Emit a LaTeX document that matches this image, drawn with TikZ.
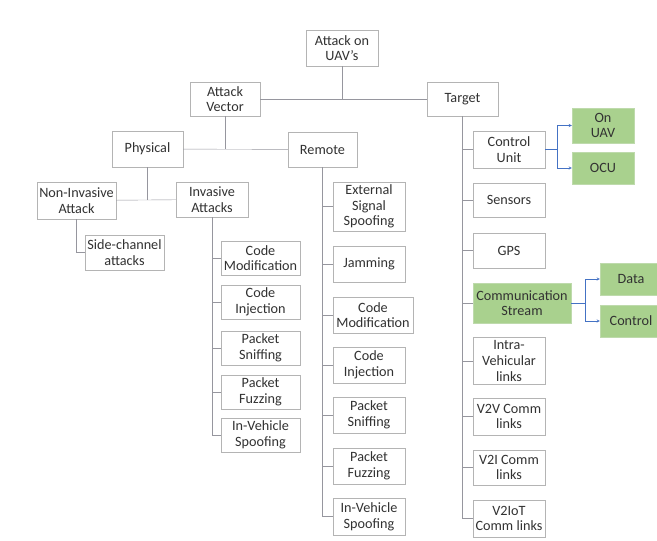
\documentclass[tikz,border=0pt]{standalone}
\usepackage{fontspec}
\setmainfont{Carlito}
\usetikzlibrary{arrows,positioning}
\definecolor{boxline}{RGB}{180,180,180}
\definecolor{linkline}{RGB}{150,150,158}
\definecolor{greenfill}{RGB}{169,209,142}
\definecolor{greenedge}{RGB}{190,218,172}
\definecolor{arrowblue}{RGB}{68,114,196}
\definecolor{textgray}{RGB}{50,50,50}
\tikzstyle{vector}=[rectangle,draw=boxline,thin,fill=white,inner sep=1pt,align=center]
\tikzstyle{leaf}=[vector,minimum width=72pt,minimum height=36pt]
\tikzstyle{added}=[fill=greenfill,draw=greenedge]
\tikzstyle{link}=[draw=linkline,thin]
\tikzstyle{feed}=[draw=arrowblue,thin,->]

\begin{document}
\begin{tikzpicture}[>=stealth,x=1pt,y=-1pt,font=\fontsize{14.2}{15.6}\selectfont,text=textgray]
    \useasboundingbox (0,0) rectangle (657,541);

    % upper levels
    \node[vector,minimum width=72pt,minimum height=36pt] (uav) at (342,48) {Attack on\\UAV's};
    \node[vector,minimum width=70pt,minimum height=34pt] (vector) at (225,99) {Attack\\Vector};
    \node[vector,minimum width=71pt,minimum height=34pt] (target) at (462.5,99) {Target};
    \node[vector,minimum width=71pt,minimum height=36pt] (physical) at (147.5,149) {Physical};
    \node[vector,minimum width=69pt,minimum height=35pt] (remote) at (322.5,149.5) {Remote};
    \node[vector,minimum width=79pt,minimum height=37pt] (noninv) at (76.5,200.5) {Non-Invasive\\Attack};
    \node[vector,minimum width=72pt,minimum height=35pt] (inv) at (212,199.5) {Invasive\\Attacks};
    \node[vector,minimum width=79pt,minimum height=35pt] (side) at (124.5,252.5) {Side-channel\\attacks};

    % invasive attacks
    \node[leaf,minimum width=79pt,minimum height=34pt] (icode) at (260.5,258) {Code\\Modification};
    \node[leaf,minimum width=79pt,minimum height=34pt] (iinj) at (260.5,302) {Code\\Injection};
    \node[leaf,minimum width=79pt,minimum height=34pt] (isniff) at (260.5,348) {Packet\\Sniffing};
    \node[leaf,minimum width=79pt,minimum height=34pt] (ifuzz) at (260.5,392) {Packet\\Fuzzing};
    \node[leaf,minimum width=79pt,minimum height=34pt] (ispoof) at (260.5,435) {In-Vehicle\\Spoofing};

    % remote attacks
    \node[leaf,minimum height=49pt] (rext) at (369,206.5) {External\\Signal\\Spoofing};
    \node[leaf] (rjam) at (369,264) {Jamming};
    \node[leaf,minimum width=80pt] (rcode) at (373,315) {Code\\Modification};
    \node[leaf] (rinj) at (369,365) {Code\\Injection};
    \node[leaf] (rsniff) at (369,415) {Packet\\Sniffing};
    \node[leaf] (rfuzz) at (369,466) {Packet\\Fuzzing};
    \node[leaf,minimum height=37pt] (rspoof) at (369,516.5) {In-Vehicle\\Spoofing};

    % targets
    \node[leaf,minimum height=37pt] (cu) at (509,149.5) {Control\\Unit};
    \node[leaf,minimum height=34pt] (sensors) at (509,200) {Sensors};
    \node[leaf,minimum height=35pt] (gps) at (509,250.5) {GPS};
    \node[leaf,added,minimum width=98pt,minimum height=40pt] (stream) at (522,303) {Communication\\Stream};
    \node[leaf,minimum height=47pt] (intra) at (509,361) {Intra-\\Vehicular\\links};
    \node[leaf,minimum height=37pt] (v2v) at (509,416.5) {V2V Comm\\links};
    \node[leaf,minimum height=35pt] (v2i) at (509,467.5) {V2I Comm\\links};
    \node[leaf,minimum height=37pt] (v2iot) at (509,518.5) {V2IoT\\Comm links};

    \node[vector,added,minimum width=62pt,minimum height=35pt] (onuav) at (603,125.5) {On\\UAV};
    \node[vector,added,minimum width=62pt,minimum height=32pt] (ocu) at (603,168) {OCU};
    \node[vector,added,minimum width=62pt,minimum height=32pt] (data) at (631,279) {Data};
    \node[vector,added,minimum width=62pt,minimum height=32pt] (control) at (631,321) {Control};

    \draw[link] (vector) -- (target);
    \draw[link] (uav) -- (uav |- vector);
    \draw[link] (physical) -- (remote);
    \draw[link] (vector) -- (vector |- physical);
    \draw[link] (noninv) -- (inv);
    \draw[link] (physical) -- (physical |- inv);

    \draw[link] (noninv.south) |- (side.west);

    \draw[link] (inv.south) |- (icode.west);
    \draw[link] (inv.south) |- (iinj.west);
    \draw[link] (inv.south) |- (isniff.west);
    \draw[link] (inv.south) |- (ifuzz.west);
    \draw[link] (inv.south) |- (ispoof.west);

    \draw[link] (remote.south) |- (rext.west);
    \draw[link] (remote.south) |- (rjam.west);
    \draw[link] (remote.south) |- (rcode.west);
    \draw[link] (remote.south) |- (rinj.west);
    \draw[link] (remote.south) |- (rsniff.west);
    \draw[link] (remote.south) |- (rfuzz.west);
    \draw[link] (remote.south) |- (rspoof.west);

    \draw[link] (target.south) |- (cu.west);
    \draw[link] (target.south) |- (sensors.west);
    \draw[link] (target.south) |- (gps.west);
    \draw[link] (target.south) |- (stream.west);
    \draw[link] (target.south) |- (intra.west);
    \draw[link] (target.south) |- (v2v.west);
    \draw[link] (target.south) |- (v2i.west);
    \draw[link] (target.south) |- (v2iot.west);

    \coordinate[right=12pt of cu.east] (cusplit);
    \coordinate[right=14pt of stream.east] (streamsplit);
    \draw[feed] (cu.east) -- (cusplit) |- (onuav.west);
    \draw[feed] (cusplit) |- (ocu.west);
    \draw[feed] (stream.east) -- (streamsplit) |- (data.west);
    \draw[feed] (streamsplit) |- (control.west);
  \end{tikzpicture}
\end{document}
